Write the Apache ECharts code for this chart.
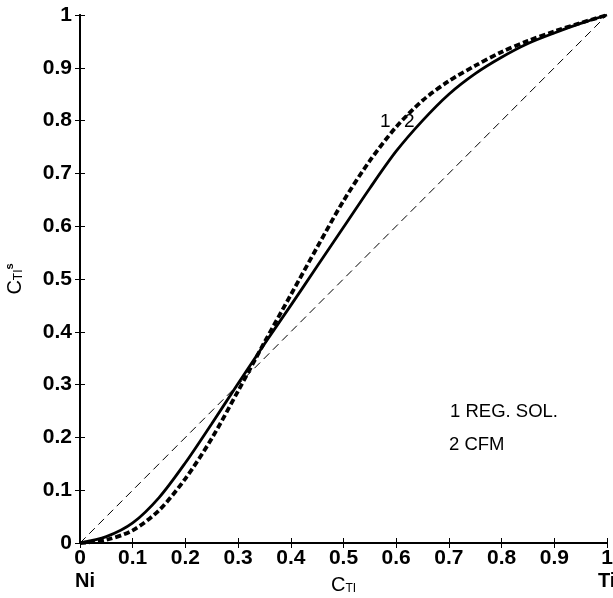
<!DOCTYPE html>
<html>
<head>
<meta charset="utf-8">
<script src="https://cdn.jsdelivr.net/npm/echarts@6/dist/echarts.min.js"></script>
<style>html,body{margin:0;padding:0;background:#fff}#c{width:613px;height:598px}</style>
</head>
<body>
<div id="c"></div>
<script>
var xs = [0,0.05,0.1,0.15,0.2,0.25,0.3,0.35,0.4,0.45,0.5,0.55,0.6,0.65,0.7,0.75,0.8,0.85,0.9,0.95,1];
var regSol = [0,0.006,0.024,0.062,0.122,0.198,0.288,0.380,0.470,0.560,0.648,0.724,0.788,0.838,0.875,0.904,0.930,0.951,0.969,0.985,1];
var cfm = [0,0.012,0.038,0.086,0.152,0.226,0.302,0.377,0.450,0.524,0.598,0.672,0.742,0.800,0.850,0.889,0.920,0.946,0.966,0.984,1];
var diag = [0,1];

function pairs(a,b){return a.map(function(v,i){return [v,b[i]];});}
var chart = echarts.init(document.getElementById('c'));
var F = 'Liberation Sans, Arial, sans-serif';
var lab = function(v){return String(Math.round(v*10)/10);};
var tick = {inside:true,length:5,lineStyle:{color:'#000',width:1}};
var line = {lineStyle:{color:'#000',width:2}};
chart.setOption({
  animation:false,
  grid:{left:80,right:6,top:15,bottom:55,containLabel:false,outerBoundsMode:'none'},
  xAxis:[{type:'value',min:0,max:1,interval:0.1,axisLine:line,axisTick:tick,splitLine:{show:false},
    axisLabel:{color:'#000',fontSize:21,fontWeight:'bold',fontFamily:F,margin:5,formatter:lab},
    name:'{a|C}{b|TI}',nameLocation:'middle',nameGap:32,
    nameTextStyle:{rich:{a:{fontSize:20,fontFamily:F,color:'#000'},b:{fontSize:12,fontFamily:F,color:'#000',padding:[7,0,0,0]}}}},
   {type:'value',position:'top',min:0,max:1,interval:0.1,axisLine:line,axisTick:tick,splitLine:{show:false},axisLabel:{show:false}}],
  yAxis:[{type:'value',min:0,max:1,interval:0.1,axisLine:line,axisTick:tick,splitLine:{show:false},
    axisLabel:{color:'#000',fontSize:21,fontWeight:'bold',fontFamily:F,margin:8,formatter:lab},
    name:'{a|C}{b|TI}{s|s}',nameLocation:'middle',nameGap:53,nameRotate:90,
    nameTextStyle:{rich:{a:{fontSize:20,fontFamily:F,color:'#000'},b:{fontSize:12,fontFamily:F,color:'#000',padding:[7,0,0,0]},s:{fontSize:11,fontWeight:'bold',fontFamily:F,color:'#000',padding:[0,0,12,0]}}}},
   {type:'value',position:'right',min:0,max:1,interval:0.1,axisLine:line,axisTick:tick,splitLine:{show:false},axisLabel:{show:false}}],
  series:[
    {type:'line',data:pairs(diag,diag),symbol:'none',lineStyle:{color:'#000',width:1,type:[8,5]}},
    {type:'line',data:pairs(xs,cfm),symbol:'none',smooth:0.3,lineStyle:{color:'#000',width:2.8}},
    {type:'line',data:pairs(xs,regSol),symbol:'none',smooth:0.3,lineStyle:{color:'#000',width:3.8,type:[6,3],cap:'butt'}}
  ],
  graphic:[
    {type:'text',left:380,top:112,style:{text:'1',font:'19px '+F,fill:'#000'}},
    {type:'text',left:404,top:112,style:{text:'2',font:'19px '+F,fill:'#000'}},
    {type:'text',left:450,top:402,style:{text:'1 REG. SOL.',font:'18.5px '+F,fill:'#000'}},
    {type:'text',left:449,top:435,style:{text:'2 CFM',font:'18.5px '+F,fill:'#000'}},
    {type:'text',left:75,top:571,style:{text:'Ni',font:'bold 20px '+F,fill:'#000'}},
    {type:'text',left:598,top:571,style:{text:'Ti',font:'bold 20px '+F,fill:'#000'}}
  ]
});
</script>
</body>
</html>
